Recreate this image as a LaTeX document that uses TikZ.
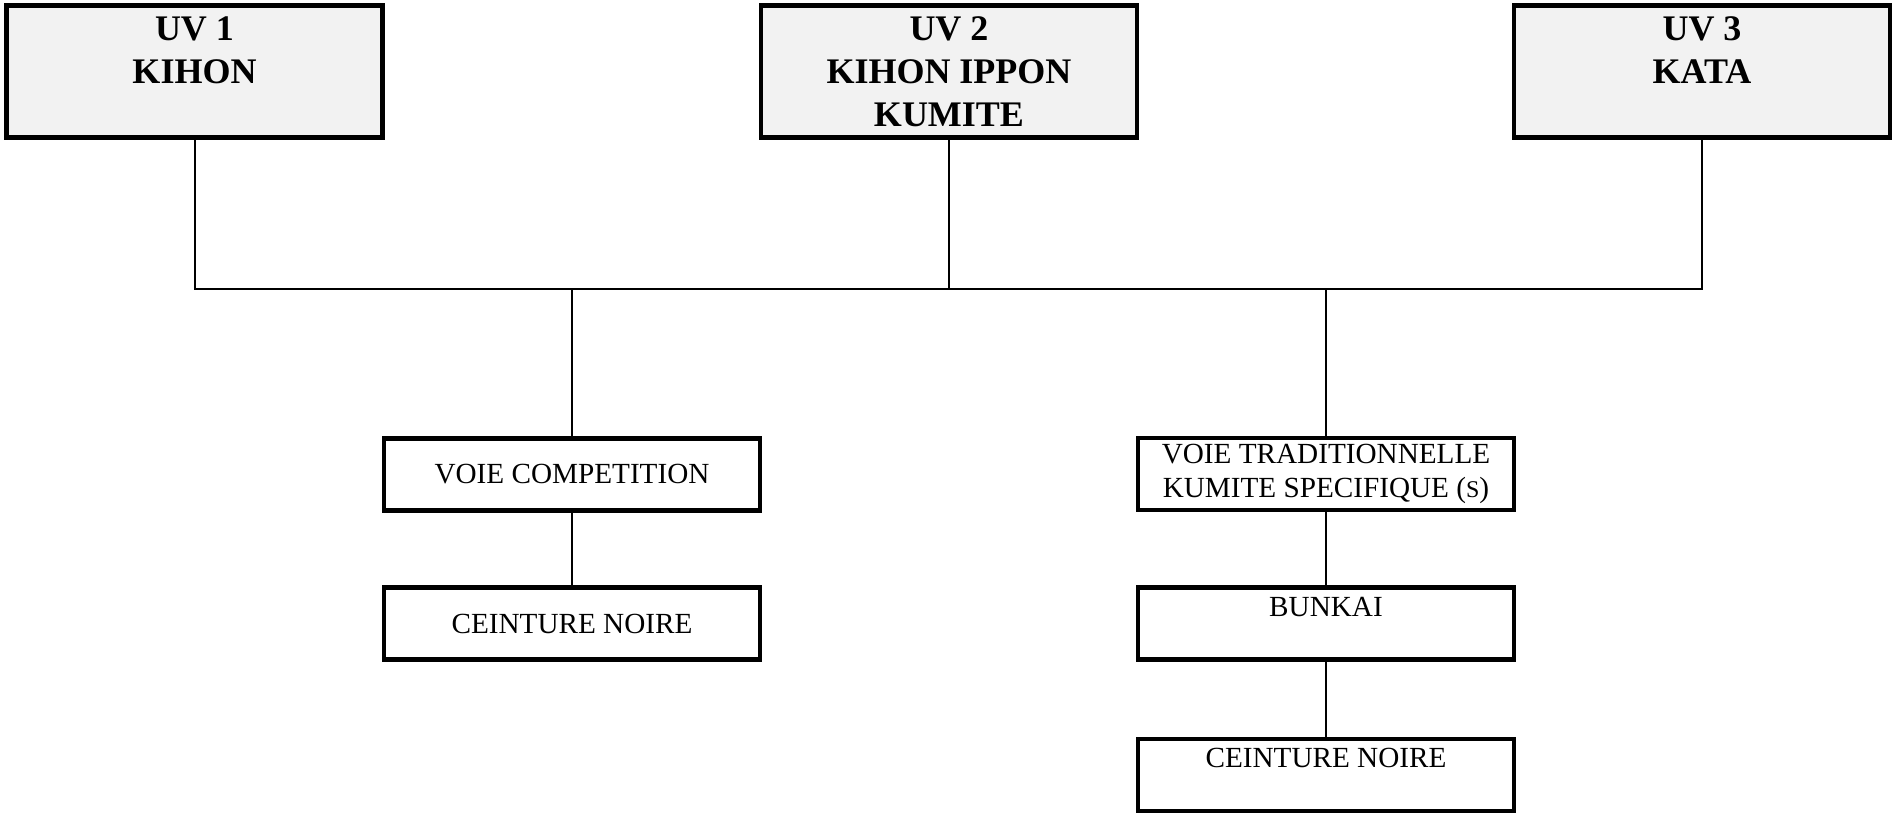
\documentclass[tikz,border=0pt]{standalone}
\usepackage{fontspec}
\setmainfont{Liberation Serif}
\definecolor{uvgray}{HTML}{F2F2F2}
\begin{document}
\begin{tikzpicture}
[x=0.5pt,y=-0.5pt,
 uv/.style={rectangle,draw=black,line width=2.2pt,fill=uvgray,
   minimum width=188pt,minimum height=66pt,inner sep=0pt,align=center,
   font=\fontsize{18}{21.5}\selectfont\bfseries},
 voie/.style={rectangle,draw=black,line width=2.2pt,
   minimum width=188pt,minimum height=36pt,inner sep=0pt,align=center,
   font=\fontsize{14.6}{17}\selectfont},
 link/.style={line width=1pt}]
\useasboundingbox (0,0) rectangle (1892,815);
% unites de valeur
\node [uv] (uv1) at (194.5,71.5) {UV 1\\KIHON\\~};
\node [uv] (uv2) at (949,71.5) {UV 2\\KIHON IPPON\\KUMITE};
\node [uv] (uv3) at (1702,71.5) {UV 3\\KATA\\~};
\coordinate (bus) at (0,289);
% voie competition
\node [voie] (comp) at (572,474.5) {VOIE COMPETITION};
\node [voie] (noire1) at (572,623.5) {CEINTURE NOIRE};
% voie traditionnelle
\node [voie] (trad) at (1326,474)
  {VOIE TRADITIONNELLE\\KUMITE SPECIFIQUE ({\fontsize{12}{17}\selectfont S})};
\node [voie] (bunkai) at (1326,623.5) {BUNKAI\\~};
\node [voie] (noire2) at (1326,775) {CEINTURE NOIRE\\~};
% liaisons
\draw [link] (uv1.south) -- (uv1.south |- bus) -- (uv3.south |- bus) -- (uv3.south);
\draw [link] (uv2.south) -- (uv2.south |- bus);
\draw [link] (comp.north |- bus) -- (comp.north);
\draw [link] (trad.north |- bus) -- (trad.north);
\draw [link] (comp) -- (noire1);
\draw [link] (trad) -- (bunkai);
\draw [link] (bunkai) -- (noire2);
\end{tikzpicture}
\end{document}
